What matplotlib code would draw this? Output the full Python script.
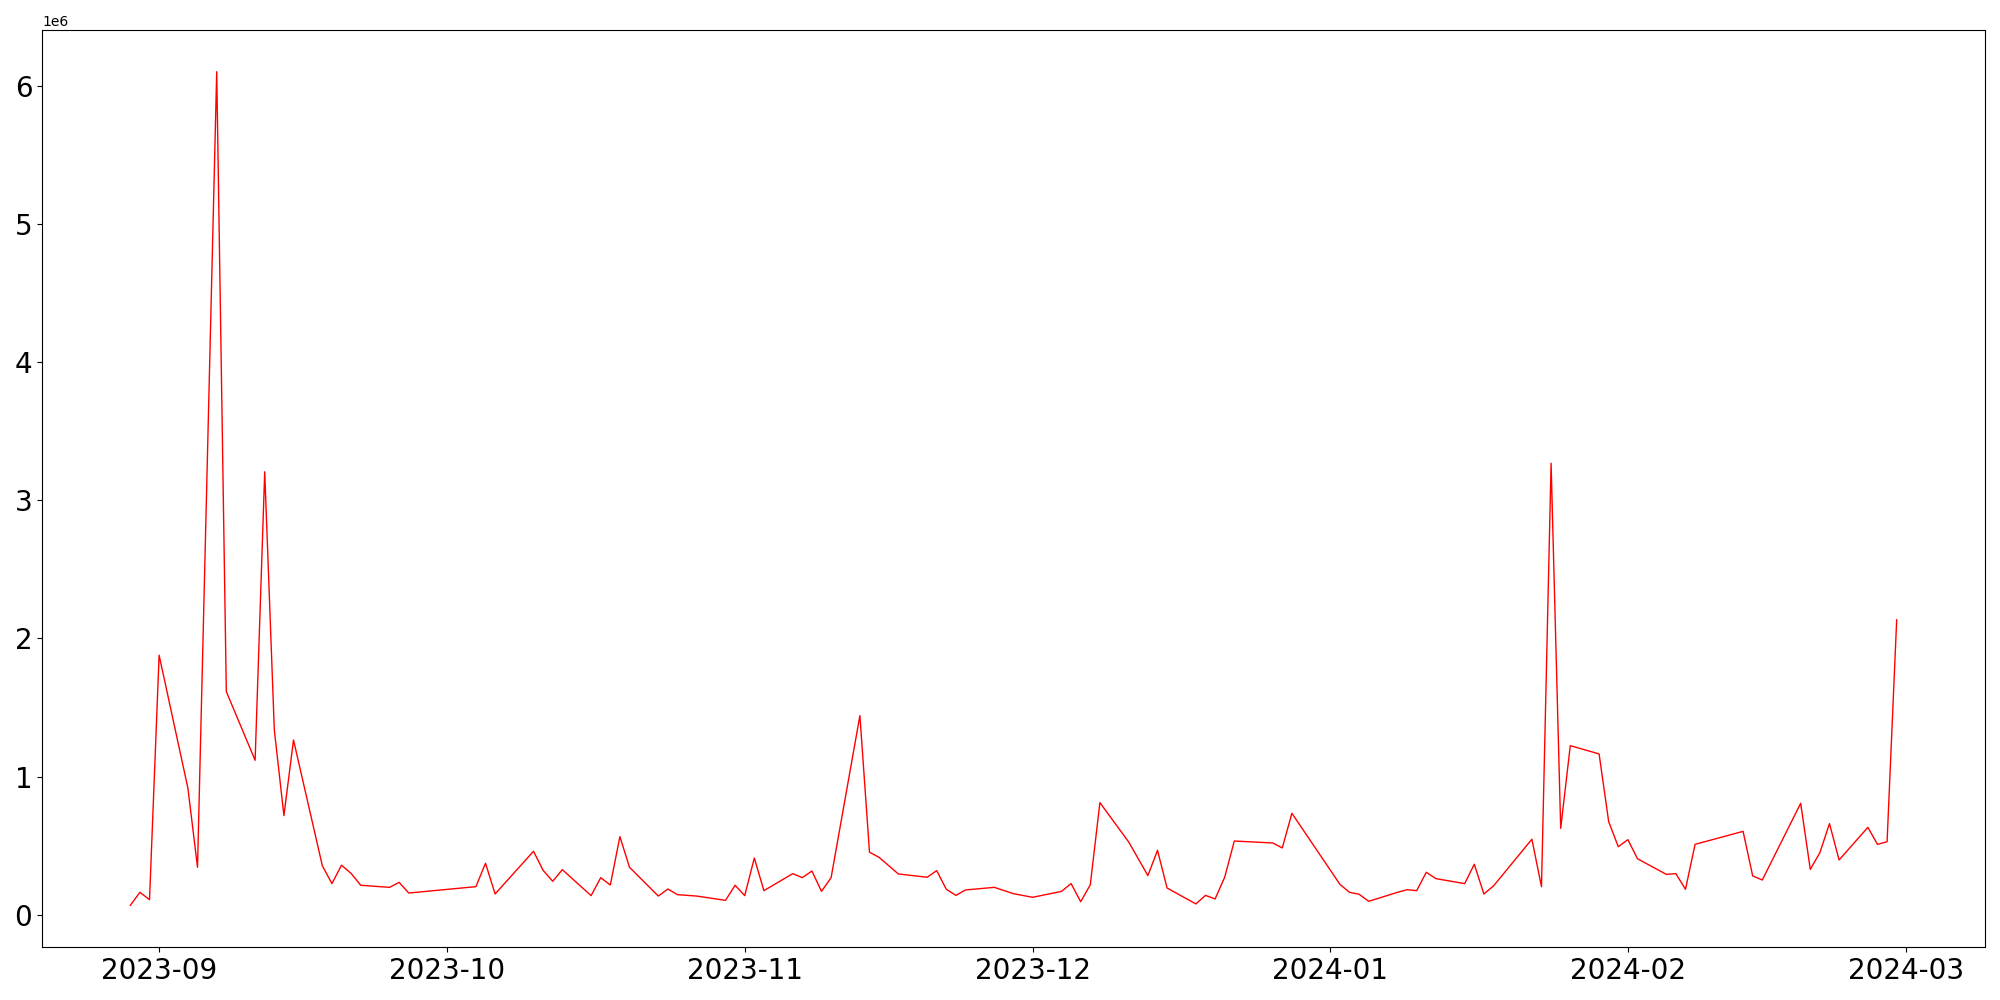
import matplotlib
matplotlib.use("Agg")
import matplotlib.pyplot as plt
import pandas as pd

# daily values (units: 1e6)
dates = [
    "2023-08-29", "2023-08-30", "2023-08-31", "2023-09-01", "2023-09-04",
    "2023-09-05", "2023-09-07", "2023-09-08", "2023-09-11", "2023-09-12",
    "2023-09-13", "2023-09-14", "2023-09-15", "2023-09-18", "2023-09-19",
    "2023-09-20", "2023-09-21", "2023-09-22", "2023-09-25", "2023-09-26",
    "2023-09-27", "2023-10-04", "2023-10-05", "2023-10-06", "2023-10-10",
    "2023-10-11", "2023-10-12", "2023-10-13", "2023-10-16", "2023-10-17",
    "2023-10-18", "2023-10-19", "2023-10-20", "2023-10-23", "2023-10-24",
    "2023-10-25", "2023-10-27", "2023-10-30", "2023-10-31", "2023-11-01",
    "2023-11-02", "2023-11-03", "2023-11-06", "2023-11-07", "2023-11-08",
    "2023-11-09", "2023-11-10", "2023-11-13", "2023-11-14", "2023-11-15",
    "2023-11-17", "2023-11-20", "2023-11-21", "2023-11-22", "2023-11-23",
    "2023-11-24", "2023-11-27", "2023-11-29", "2023-12-01", "2023-12-04",
    "2023-12-05", "2023-12-06", "2023-12-07", "2023-12-08", "2023-12-11",
    "2023-12-13", "2023-12-14", "2023-12-15", "2023-12-18", "2023-12-19",
    "2023-12-20", "2023-12-21", "2023-12-22", "2023-12-26", "2023-12-27",
    "2023-12-28", "2024-01-02", "2024-01-03", "2024-01-04", "2024-01-05",
    "2024-01-08", "2024-01-09", "2024-01-10", "2024-01-11", "2024-01-12",
    "2024-01-15", "2024-01-16", "2024-01-17", "2024-01-18", "2024-01-22",
    "2024-01-23", "2024-01-24", "2024-01-25", "2024-01-26", "2024-01-29",
    "2024-01-30", "2024-01-31", "2024-02-01", "2024-02-02", "2024-02-05",
    "2024-02-06", "2024-02-07", "2024-02-08", "2024-02-13", "2024-02-14",
    "2024-02-15", "2024-02-19", "2024-02-20", "2024-02-21", "2024-02-22",
    "2024-02-23", "2024-02-26", "2024-02-27", "2024-02-28", "2024-02-29",
]
values = [
    0.070, 0.164, 0.111, 1.879, 0.917,
    0.345, 6.100, 1.616, 1.119, 3.206,
    1.339, 0.719, 1.266, 0.357, 0.227,
    0.360, 0.301, 0.215, 0.200, 0.236,
    0.159, 0.205, 0.374, 0.152, 0.461,
    0.323, 0.244, 0.328, 0.140, 0.270,
    0.217, 0.567, 0.345, 0.137, 0.188,
    0.147, 0.137, 0.106, 0.215, 0.140,
    0.412, 0.176, 0.299, 0.270, 0.318,
    0.171, 0.270, 1.442, 0.454, 0.417,
    0.297, 0.273, 0.321, 0.186, 0.142,
    0.181, 0.200, 0.154, 0.128, 0.171,
    0.227, 0.096, 0.219, 0.813, 0.528,
    0.285, 0.468, 0.195, 0.080, 0.142,
    0.116, 0.273, 0.535, 0.521, 0.485,
    0.736, 0.222, 0.164, 0.150, 0.099,
    0.164, 0.183, 0.176, 0.309, 0.263,
    0.227, 0.367, 0.152, 0.210, 0.548,
    0.205, 3.268, 0.627, 1.225, 1.165,
    0.675, 0.494, 0.545, 0.407, 0.294,
    0.299, 0.186, 0.511, 0.605, 0.283,
    0.253, 0.808, 0.330, 0.451, 0.661,
    0.398, 0.634, 0.511, 0.530, 2.135,
]

x = pd.to_datetime(dates)
y = [v * 1e6 for v in values]

fig, ax = plt.subplots(figsize=(20, 10), dpi=100)
ax.plot(x, y, color="red", linewidth=1)
ax.tick_params(axis="both", labelsize=20)
fig.subplots_adjust(left=0.021, right=0.9925, top=0.97, bottom=0.053)
fig.savefig("out.png", dpi=100)
